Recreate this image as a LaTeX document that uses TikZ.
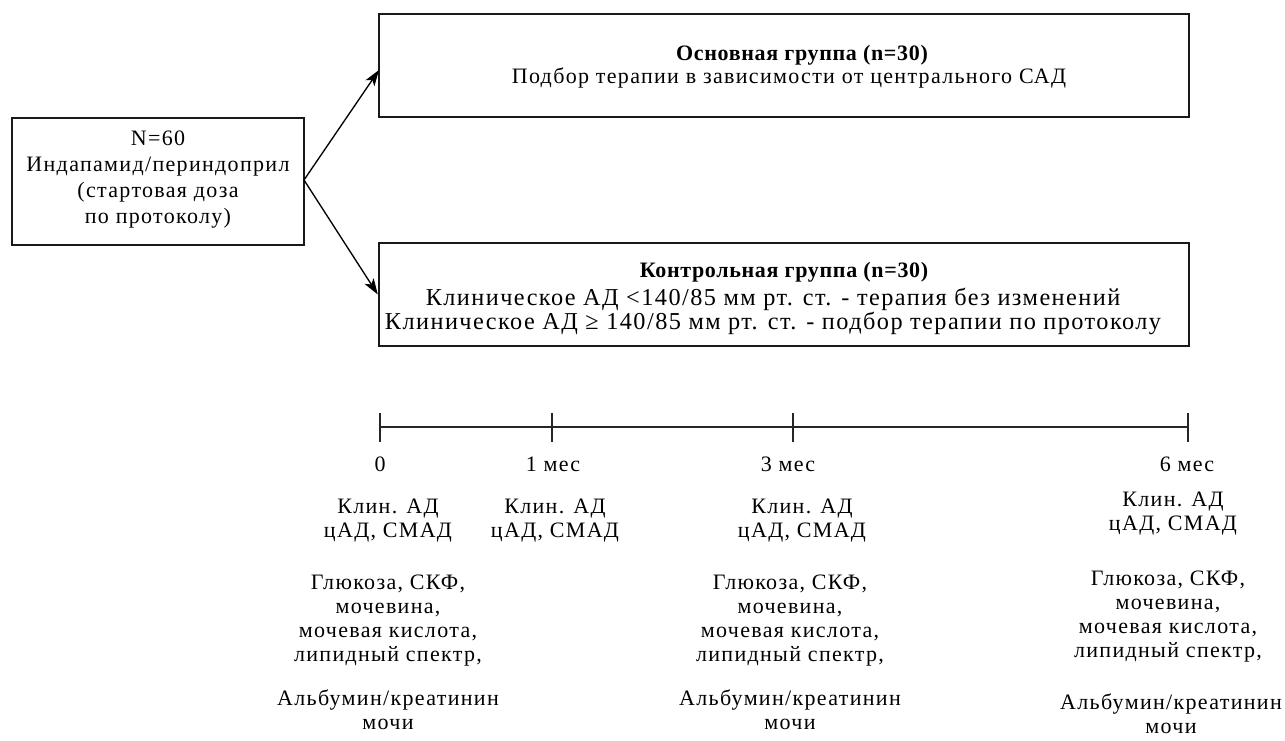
\documentclass[tikz,border=0pt]{standalone}
\usepackage{fontspec}
\setmainfont{Liberation Serif}[LetterSpace=6]
\usetikzlibrary{arrows.meta}
\begin{document}
\begin{tikzpicture}[x=0.75pt,y=-0.75pt,
  box/.style={draw=black!90,line width=1.8pt,align=center,inner sep=0pt},
  txt/.style={align=center,inner sep=0pt,font=\fontsize{16.5}{18}\selectfont},
  head/.style={inner sep=0pt,font=\fontsize{16.5}{18}\selectfont\bfseries\addfontfeature{LetterSpace=3}},
  arr/.style={line width=1pt,-{Stealth[length=12pt,width=8pt,inset=3pt]}},
  axis/.style={line width=1.3pt,black!85},
  lbl/.style={align=center,inner sep=0pt,font=\fontsize{16.5}{18}\selectfont}]
\useasboundingbox (0,0) rectangle (1285,741);
% boxes
\node[box,minimum width=219pt,minimum height=95.25pt] (L) at (158,181.5) {};
\node[txt,font=\fontsize{16.5}{19.5}\selectfont] (Lt) at (158,179.5)
  {N=60\\Индапамид/периндоприл\\(стартовая доза\\по протоколу)};
\node[box,minimum width=607.5pt,minimum height=77.25pt] (T) at (784,65.5) {};
\node[head] (Th) at (802,55) {Основная группа (n=30)};
\node[txt] (Tt) at (789,78) {Подбор терапии в зависимости от центрального САД};
\node[box,minimum width=607.5pt,minimum height=77.25pt] (B) at (784,294.5) {};
\node[head] (Bh) at (784,272) {Контрольная группа (n=30)};
\node[txt,font=\fontsize{18.2}{18.5}\selectfont] (Bt) at (773,311.5)
  {Клиническое АД <140/85 мм рт. ст. - терапия без изменений\\Клиническое АД ≥ 140/85 мм рт. ст. - подбор терапии по протоколу};
% arrows
\coordinate (ta) at (379,70);
\coordinate (ls) at (304,180);
\draw[arr] (ls) -- (ta);
\draw[arr] (ls) -- (B.west);
% timeline
\coordinate (t0) at (380,427);
\coordinate (t1) at (552,427);
\coordinate (t3) at (793,427);
\coordinate (t6) at (1188,427);
\draw[axis] (t0) -- (t6);
\foreach \p in {t0,t1,t3,t6}{\draw[axis] ([yshift=10.5pt]\p) -- ([yshift=-11pt]\p);}
\node[lbl] (l0) at (380,464) {0};
\node[lbl] (l1) at (553,464) {1 мес};
\node[lbl] (l3) at (788,464) {3 мес};
\node[lbl] (l6) at (1187,464) {6 мес};
% column texts
\node[txt] (a0) at (388,521) {Клин. АД\\цАД, СМАД};
\node[txt] (a1) at (555,521) {Клин. АД\\цАД, СМАД};
\node[txt] (a3) at (802,521) {Клин. АД\\цАД, СМАД};
\node[txt] (a6) at (1173,514) {Клин. АД\\цАД, СМАД};
\node[txt] (g0) at (388,620.5) {Глюкоза, СКФ,\\мочевина,\\мочевая кислота,\\липидный спектр,};
\node[txt] (g3) at (790,620.5) {Глюкоза, СКФ,\\мочевина,\\мочевая кислота,\\липидный спектр,};
\node[txt] (g6) at (1168,617) {Глюкоза, СКФ,\\мочевина,\\мочевая кислота,\\липидный спектр,};
\node[txt] (u0) at (388,710) {Альбумин/креатинин\\мочи};
\node[txt] (u3) at (790,710) {Альбумин/креатинин\\мочи};
\node[txt] (u6) at (1171,714) {Альбумин/креатинин\\мочи};
\end{tikzpicture}
\end{document}
